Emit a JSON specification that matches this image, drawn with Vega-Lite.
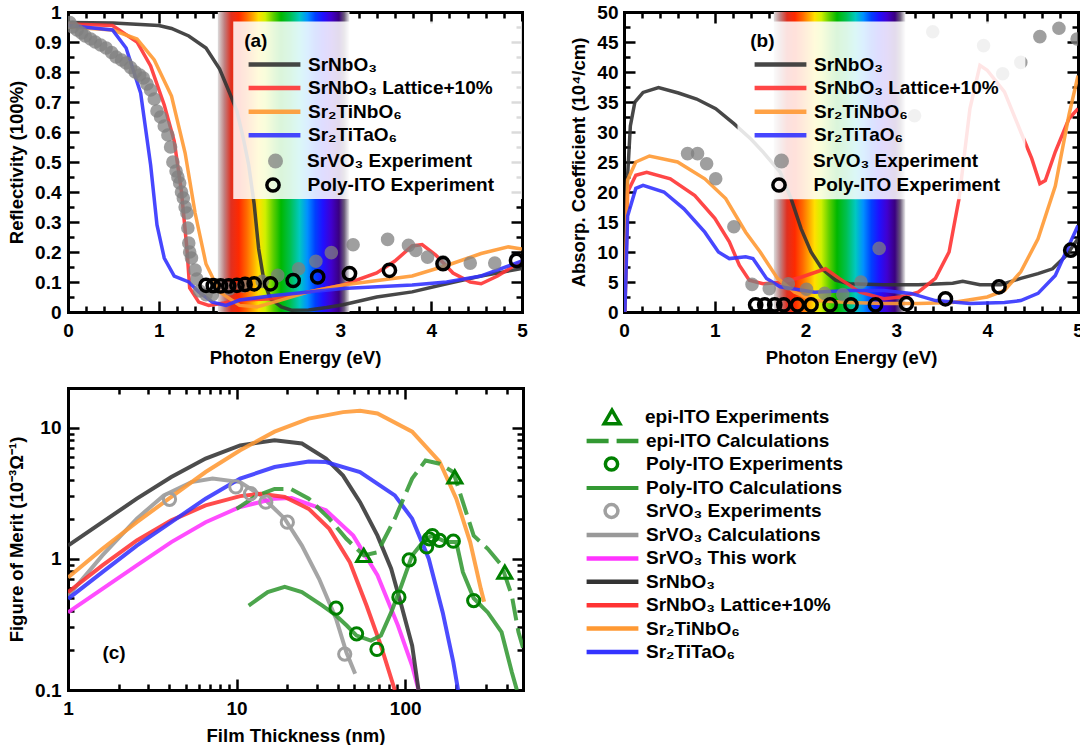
{
 "$schema": "https://vega.github.io/schema/vega-lite/v6.json",
 "padding": {"left": 7, "top": 3, "right": 0, "bottom": 0},
 "background": "white",
 "spacing": 19,
 "resolve": {"scale": {"color": "independent", "opacity": "independent", "size": "independent", "shape": "independent", "strokeDash": "independent", "strokeWidth": "independent"}, "legend": {"color": "independent", "opacity": "independent", "size": "independent", "shape": "independent", "strokeDash": "independent", "strokeWidth": "independent"}},
 "datasets": {
  "aLines": [
   {"s":"SrNbO₃","x":0,"y":0.965},{"s":"SrNbO₃","x":0.5,"y":0.963},{"s":"SrNbO₃","x":1.0,"y":0.955},{"s":"SrNbO₃","x":1.14,"y":0.945},{"s":"SrNbO₃","x":1.33,"y":0.92},{"s":"SrNbO₃","x":1.52,"y":0.88},{"s":"SrNbO₃","x":1.67,"y":0.81},{"s":"SrNbO₃","x":1.78,"y":0.73},{"s":"SrNbO₃","x":1.86,"y":0.67},{"s":"SrNbO₃","x":1.93,"y":0.58},{"s":"SrNbO₃","x":1.99,"y":0.49},{"s":"SrNbO₃","x":2.05,"y":0.36},{"s":"SrNbO₃","x":2.1,"y":0.21},{"s":"SrNbO₃","x":2.16,"y":0.1},{"s":"SrNbO₃","x":2.23,"y":0.044},{"s":"SrNbO₃","x":2.35,"y":0.017},{"s":"SrNbO₃","x":2.46,"y":0.006},{"s":"SrNbO₃","x":2.65,"y":0.007},{"s":"SrNbO₃","x":2.85,"y":0.015},{"s":"SrNbO₃","x":3.03,"y":0.024},{"s":"SrNbO₃","x":3.4,"y":0.05},{"s":"SrNbO₃","x":3.79,"y":0.067},{"s":"SrNbO₃","x":4.17,"y":0.094},{"s":"SrNbO₃","x":4.55,"y":0.12},{"s":"SrNbO₃","x":5,"y":0.145},
   {"s":"SrNbO₃ Lattice+10%","x":0,"y":0.96},{"s":"SrNbO₃ Lattice+10%","x":0.49,"y":0.955},{"s":"SrNbO₃ Lattice+10%","x":0.76,"y":0.9},{"s":"SrNbO₃ Lattice+10%","x":0.91,"y":0.82},{"s":"SrNbO₃ Lattice+10%","x":1.06,"y":0.69},{"s":"SrNbO₃ Lattice+10%","x":1.17,"y":0.57},{"s":"SrNbO₃ Lattice+10%","x":1.25,"y":0.4},{"s":"SrNbO₃ Lattice+10%","x":1.31,"y":0.21},{"s":"SrNbO₃ Lattice+10%","x":1.34,"y":0.08},{"s":"SrNbO₃ Lattice+10%","x":1.44,"y":0.033},{"s":"SrNbO₃ Lattice+10%","x":1.55,"y":0.022},{"s":"SrNbO₃ Lattice+10%","x":1.72,"y":0.03},{"s":"SrNbO₃ Lattice+10%","x":1.89,"y":0.04},{"s":"SrNbO₃ Lattice+10%","x":2.27,"y":0.044},{"s":"SrNbO₃ Lattice+10%","x":2.65,"y":0.067},{"s":"SrNbO₃ Lattice+10%","x":3.03,"y":0.09},{"s":"SrNbO₃ Lattice+10%","x":3.4,"y":0.13},{"s":"SrNbO₃ Lattice+10%","x":3.6,"y":0.17},{"s":"SrNbO₃ Lattice+10%","x":3.79,"y":0.22},{"s":"SrNbO₃ Lattice+10%","x":3.9,"y":0.225},{"s":"SrNbO₃ Lattice+10%","x":4.05,"y":0.19},{"s":"SrNbO₃ Lattice+10%","x":4.24,"y":0.13},{"s":"SrNbO₃ Lattice+10%","x":4.43,"y":0.1},{"s":"SrNbO₃ Lattice+10%","x":4.55,"y":0.094},{"s":"SrNbO₃ Lattice+10%","x":4.73,"y":0.12},{"s":"SrNbO₃ Lattice+10%","x":5,"y":0.17},
   {"s":"Sr₂TiNbO₆","x":0,"y":0.95},{"s":"Sr₂TiNbO₆","x":0.49,"y":0.94},{"s":"Sr₂TiNbO₆","x":0.76,"y":0.91},{"s":"Sr₂TiNbO₆","x":0.95,"y":0.84},{"s":"Sr₂TiNbO₆","x":1.14,"y":0.72},{"s":"Sr₂TiNbO₆","x":1.29,"y":0.53},{"s":"Sr₂TiNbO₆","x":1.4,"y":0.33},{"s":"Sr₂TiNbO₆","x":1.52,"y":0.16},{"s":"Sr₂TiNbO₆","x":1.67,"y":0.067},{"s":"Sr₂TiNbO₆","x":1.89,"y":0.022},{"s":"Sr₂TiNbO₆","x":2.08,"y":0.017},{"s":"Sr₂TiNbO₆","x":2.27,"y":0.033},{"s":"Sr₂TiNbO₆","x":2.65,"y":0.067},{"s":"Sr₂TiNbO₆","x":3.03,"y":0.09},{"s":"Sr₂TiNbO₆","x":3.79,"y":0.12},{"s":"Sr₂TiNbO₆","x":4.17,"y":0.155},{"s":"Sr₂TiNbO₆","x":4.55,"y":0.195},{"s":"Sr₂TiNbO₆","x":4.85,"y":0.217},{"s":"Sr₂TiNbO₆","x":5,"y":0.21},
   {"s":"Sr₂TiTaO₆","x":0,"y":0.955},{"s":"Sr₂TiTaO₆","x":0.49,"y":0.94},{"s":"Sr₂TiTaO₆","x":0.64,"y":0.88},{"s":"Sr₂TiTaO₆","x":0.8,"y":0.73},{"s":"Sr₂TiTaO₆","x":0.91,"y":0.49},{"s":"Sr₂TiTaO₆","x":0.98,"y":0.29},{"s":"Sr₂TiTaO₆","x":1.06,"y":0.18},{"s":"Sr₂TiTaO₆","x":1.17,"y":0.12},{"s":"Sr₂TiTaO₆","x":1.33,"y":0.1},{"s":"Sr₂TiTaO₆","x":1.44,"y":0.067},{"s":"Sr₂TiTaO₆","x":1.59,"y":0.033},{"s":"Sr₂TiTaO₆","x":1.74,"y":0.022},{"s":"Sr₂TiTaO₆","x":1.89,"y":0.04},{"s":"Sr₂TiTaO₆","x":2.27,"y":0.055},{"s":"Sr₂TiTaO₆","x":2.65,"y":0.067},{"s":"Sr₂TiTaO₆","x":3.03,"y":0.078},{"s":"Sr₂TiTaO₆","x":3.79,"y":0.09},{"s":"Sr₂TiTaO₆","x":4.17,"y":0.1},{"s":"Sr₂TiTaO₆","x":4.55,"y":0.12},{"s":"Sr₂TiTaO₆","x":5,"y":0.17}
  ],
  "aGray": [
   {"s":"SrVO₃ Experiment","x":0.02,"y":0.965},{"s":"SrVO₃ Experiment","x":0.05,"y":0.95},{"s":"SrVO₃ Experiment","x":0.1,"y":0.94},{"s":"SrVO₃ Experiment","x":0.15,"y":0.93},{"s":"SrVO₃ Experiment","x":0.19,"y":0.92},{"s":"SrVO₃ Experiment","x":0.25,"y":0.91},{"s":"SrVO₃ Experiment","x":0.3,"y":0.9},{"s":"SrVO₃ Experiment","x":0.36,"y":0.89},{"s":"SrVO₃ Experiment","x":0.42,"y":0.88},{"s":"SrVO₃ Experiment","x":0.48,"y":0.865},{"s":"SrVO₃ Experiment","x":0.53,"y":0.85},{"s":"SrVO₃ Experiment","x":0.59,"y":0.84},{"s":"SrVO₃ Experiment","x":0.64,"y":0.83},{"s":"SrVO₃ Experiment","x":0.69,"y":0.815},{"s":"SrVO₃ Experiment","x":0.74,"y":0.8},{"s":"SrVO₃ Experiment","x":0.79,"y":0.79},{"s":"SrVO₃ Experiment","x":0.83,"y":0.78},{"s":"SrVO₃ Experiment","x":0.87,"y":0.76},{"s":"SrVO₃ Experiment","x":0.91,"y":0.74},{"s":"SrVO₃ Experiment","x":0.95,"y":0.71},{"s":"SrVO₃ Experiment","x":0.98,"y":0.67},{"s":"SrVO₃ Experiment","x":1.02,"y":0.65},{"s":"SrVO₃ Experiment","x":1.06,"y":0.62},{"s":"SrVO₃ Experiment","x":1.1,"y":0.59},{"s":"SrVO₃ Experiment","x":1.13,"y":0.55},{"s":"SrVO₃ Experiment","x":1.155,"y":0.5},{"s":"SrVO₃ Experiment","x":1.19,"y":0.47},{"s":"SrVO₃ Experiment","x":1.21,"y":0.45},{"s":"SrVO₃ Experiment","x":1.23,"y":0.43},{"s":"SrVO₃ Experiment","x":1.25,"y":0.4},{"s":"SrVO₃ Experiment","x":1.27,"y":0.38},{"s":"SrVO₃ Experiment","x":1.29,"y":0.35},{"s":"SrVO₃ Experiment","x":1.31,"y":0.33},{"s":"SrVO₃ Experiment","x":1.32,"y":0.28},{"s":"SrVO₃ Experiment","x":1.33,"y":0.23},{"s":"SrVO₃ Experiment","x":1.34,"y":0.2},{"s":"SrVO₃ Experiment","x":1.36,"y":0.18},{"s":"SrVO₃ Experiment","x":1.4,"y":0.14},{"s":"SrVO₃ Experiment","x":1.42,"y":0.11},{"s":"SrVO₃ Experiment","x":1.45,"y":0.07},{"s":"SrVO₃ Experiment","x":1.52,"y":0.058},{"s":"SrVO₃ Experiment","x":1.59,"y":0.058},{"s":"SrVO₃ Experiment","x":1.78,"y":0.078},{"s":"SrVO₃ Experiment","x":1.93,"y":0.087},{"s":"SrVO₃ Experiment","x":2.14,"y":0.102},{"s":"SrVO₃ Experiment","x":2.31,"y":0.122},{"s":"SrVO₃ Experiment","x":2.54,"y":0.144},{"s":"SrVO₃ Experiment","x":2.73,"y":0.169},{"s":"SrVO₃ Experiment","x":2.9,"y":0.198},{"s":"SrVO₃ Experiment","x":3.14,"y":0.224},{"s":"SrVO₃ Experiment","x":3.52,"y":0.242},{"s":"SrVO₃ Experiment","x":3.75,"y":0.222},{"s":"SrVO₃ Experiment","x":3.83,"y":0.205},{"s":"SrVO₃ Experiment","x":3.96,"y":0.183},{"s":"SrVO₃ Experiment","x":4.13,"y":0.167},{"s":"SrVO₃ Experiment","x":4.43,"y":0.163},{"s":"SrVO₃ Experiment","x":4.7,"y":0.163}
  ],
  "aITO": [
   {"s":"Poly-ITO Experiment","x":1.52,"y":0.089},{"s":"Poly-ITO Experiment","x":1.6,"y":0.088},{"s":"Poly-ITO Experiment","x":1.68,"y":0.087},{"s":"Poly-ITO Experiment","x":1.77,"y":0.087},{"s":"Poly-ITO Experiment","x":1.86,"y":0.089},{"s":"Poly-ITO Experiment","x":1.95,"y":0.092},{"s":"Poly-ITO Experiment","x":2.05,"y":0.094},{"s":"Poly-ITO Experiment","x":2.23,"y":0.094},{"s":"Poly-ITO Experiment","x":2.48,"y":0.105},{"s":"Poly-ITO Experiment","x":2.75,"y":0.117},{"s":"Poly-ITO Experiment","x":3.1,"y":0.128},{"s":"Poly-ITO Experiment","x":3.54,"y":0.139},{"s":"Poly-ITO Experiment","x":4.13,"y":0.161},{"s":"Poly-ITO Experiment","x":4.94,"y":0.172}
  ],
  "bLines": [
   {"s":"SrNbO₃","x":0.01,"y":0},{"s":"SrNbO₃","x":0.03,"y":20},{"s":"SrNbO₃","x":0.07,"y":31},{"s":"SrNbO₃","x":0.12,"y":35},{"s":"SrNbO₃","x":0.21,"y":36.6},{"s":"SrNbO₃","x":0.38,"y":37.4},{"s":"SrNbO₃","x":0.6,"y":36.5},{"s":"SrNbO₃","x":0.8,"y":35.5},{"s":"SrNbO₃","x":1.01,"y":33.9},{"s":"SrNbO₃","x":1.21,"y":31.4},{"s":"SrNbO₃","x":1.4,"y":28.8},{"s":"SrNbO₃","x":1.53,"y":26.7},{"s":"SrNbO₃","x":1.72,"y":23.3},{"s":"SrNbO₃","x":1.84,"y":18.9},{"s":"SrNbO₃","x":1.95,"y":13.9},{"s":"SrNbO₃","x":2.06,"y":10},{"s":"SrNbO₃","x":2.18,"y":7.2},{"s":"SrNbO₃","x":2.33,"y":5.3},{"s":"SrNbO₃","x":2.48,"y":4.7},{"s":"SrNbO₃","x":2.86,"y":4.55},{"s":"SrNbO₃","x":3.24,"y":4.55},{"s":"SrNbO₃","x":3.62,"y":4.8},{"s":"SrNbO₃","x":3.73,"y":5.1},{"s":"SrNbO₃","x":3.92,"y":4.55},{"s":"SrNbO₃","x":4.15,"y":4.55},{"s":"SrNbO₃","x":4.37,"y":5.6},{"s":"SrNbO₃","x":4.56,"y":6.4},{"s":"SrNbO₃","x":4.72,"y":7.2},{"s":"SrNbO₃","x":4.87,"y":9.4},{"s":"SrNbO₃","x":5,"y":12.2},
   {"s":"SrNbO₃ Lattice+10%","x":0.01,"y":0},{"s":"SrNbO₃ Lattice+10%","x":0.04,"y":20},{"s":"SrNbO₃ Lattice+10%","x":0.13,"y":22.8},{"s":"SrNbO₃ Lattice+10%","x":0.25,"y":23.3},{"s":"SrNbO₃ Lattice+10%","x":0.51,"y":22.2},{"s":"SrNbO₃ Lattice+10%","x":0.78,"y":19.4},{"s":"SrNbO₃ Lattice+10%","x":1.0,"y":15.6},{"s":"SrNbO₃ Lattice+10%","x":1.16,"y":11.7},{"s":"SrNbO₃ Lattice+10%","x":1.27,"y":7.8},{"s":"SrNbO₃ Lattice+10%","x":1.38,"y":5.3},{"s":"SrNbO₃ Lattice+10%","x":1.53,"y":4.7},{"s":"SrNbO₃ Lattice+10%","x":1.72,"y":4.9},{"s":"SrNbO₃ Lattice+10%","x":1.95,"y":5.8},{"s":"SrNbO₃ Lattice+10%","x":2.22,"y":7.2},{"s":"SrNbO₃ Lattice+10%","x":2.37,"y":5.6},{"s":"SrNbO₃ Lattice+10%","x":2.6,"y":3.3},{"s":"SrNbO₃ Lattice+10%","x":2.86,"y":2.2},{"s":"SrNbO₃ Lattice+10%","x":3.05,"y":2.5},{"s":"SrNbO₃ Lattice+10%","x":3.24,"y":3.3},{"s":"SrNbO₃ Lattice+10%","x":3.43,"y":5.6},{"s":"SrNbO₃ Lattice+10%","x":3.58,"y":10},{"s":"SrNbO₃ Lattice+10%","x":3.69,"y":18.9},{"s":"SrNbO₃ Lattice+10%","x":3.81,"y":33.9},{"s":"SrNbO₃ Lattice+10%","x":3.92,"y":41.1},{"s":"SrNbO₃ Lattice+10%","x":4.0,"y":40.3},{"s":"SrNbO₃ Lattice+10%","x":4.19,"y":36.7},{"s":"SrNbO₃ Lattice+10%","x":4.37,"y":30},{"s":"SrNbO₃ Lattice+10%","x":4.49,"y":25.6},{"s":"SrNbO₃ Lattice+10%","x":4.58,"y":21.4},{"s":"SrNbO₃ Lattice+10%","x":4.64,"y":21.9},{"s":"SrNbO₃ Lattice+10%","x":4.75,"y":26.7},{"s":"SrNbO₃ Lattice+10%","x":4.9,"y":32.2},{"s":"SrNbO₃ Lattice+10%","x":5,"y":33.9},
   {"s":"Sr₂TiNbO₆","x":0.01,"y":0},{"s":"Sr₂TiNbO₆","x":0.04,"y":22},{"s":"Sr₂TiNbO₆","x":0.13,"y":25},{"s":"Sr₂TiNbO₆","x":0.28,"y":26},{"s":"Sr₂TiNbO₆","x":0.59,"y":25},{"s":"Sr₂TiNbO₆","x":0.89,"y":22.2},{"s":"Sr₂TiNbO₆","x":1.12,"y":18.9},{"s":"Sr₂TiNbO₆","x":1.34,"y":13.3},{"s":"Sr₂TiNbO₆","x":1.5,"y":10},{"s":"Sr₂TiNbO₆","x":1.69,"y":5.6},{"s":"Sr₂TiNbO₆","x":1.88,"y":3.3},{"s":"Sr₂TiNbO₆","x":2.1,"y":1.9},{"s":"Sr₂TiNbO₆","x":2.48,"y":1.6},{"s":"Sr₂TiNbO₆","x":2.86,"y":1.4},{"s":"Sr₂TiNbO₆","x":3.24,"y":1.4},{"s":"Sr₂TiNbO₆","x":3.62,"y":1.6},{"s":"Sr₂TiNbO₆","x":4.0,"y":2.5},{"s":"Sr₂TiNbO₆","x":4.19,"y":3.6},{"s":"Sr₂TiNbO₆","x":4.37,"y":6.7},{"s":"Sr₂TiNbO₆","x":4.56,"y":12.2},{"s":"Sr₂TiNbO₆","x":4.75,"y":21},{"s":"Sr₂TiNbO₆","x":4.9,"y":32.8},{"s":"Sr₂TiNbO₆","x":5,"y":39.4},
   {"s":"Sr₂TiTaO₆","x":0.01,"y":0},{"s":"Sr₂TiTaO₆","x":0.04,"y":16},{"s":"Sr₂TiTaO₆","x":0.13,"y":20.6},{"s":"Sr₂TiTaO₆","x":0.21,"y":21.1},{"s":"Sr₂TiTaO₆","x":0.44,"y":20},{"s":"Sr₂TiTaO₆","x":0.66,"y":17.2},{"s":"Sr₂TiTaO₆","x":0.89,"y":13.3},{"s":"Sr₂TiTaO₆","x":1.04,"y":10},{"s":"Sr₂TiTaO₆","x":1.16,"y":8.9},{"s":"Sr₂TiTaO₆","x":1.34,"y":9.2},{"s":"Sr₂TiTaO₆","x":1.42,"y":8.9},{"s":"Sr₂TiTaO₆","x":1.57,"y":5.6},{"s":"Sr₂TiTaO₆","x":1.72,"y":4.2},{"s":"Sr₂TiTaO₆","x":2.1,"y":3.3},{"s":"Sr₂TiTaO₆","x":2.48,"y":3.6},{"s":"Sr₂TiTaO₆","x":2.86,"y":3.6},{"s":"Sr₂TiTaO₆","x":3.16,"y":3.1},{"s":"Sr₂TiTaO₆","x":3.43,"y":1.9},{"s":"Sr₂TiTaO₆","x":3.81,"y":1.4},{"s":"Sr₂TiTaO₆","x":4.19,"y":1.6},{"s":"Sr₂TiTaO₆","x":4.37,"y":1.9},{"s":"Sr₂TiTaO₆","x":4.56,"y":3.1},{"s":"Sr₂TiTaO₆","x":4.75,"y":6.1},{"s":"Sr₂TiTaO₆","x":4.9,"y":11.1},{"s":"Sr₂TiTaO₆","x":5,"y":14.4}
  ],
  "bGray": [
   {"s":"SrVO₃ Experiment","x":0.7,"y":26.4},{"s":"SrVO₃ Experiment","x":0.81,"y":26.4},{"s":"SrVO₃ Experiment","x":0.91,"y":24.7},{"s":"SrVO₃ Experiment","x":1.01,"y":22.2},{"s":"SrVO₃ Experiment","x":1.21,"y":14.2},{"s":"SrVO₃ Experiment","x":1.41,"y":4.6},{"s":"SrVO₃ Experiment","x":1.6,"y":3.9},{"s":"SrVO₃ Experiment","x":1.81,"y":4.7},{"s":"SrVO₃ Experiment","x":2.01,"y":3.8},{"s":"SrVO₃ Experiment","x":2.21,"y":3.1},{"s":"SrVO₃ Experiment","x":2.41,"y":2.9},{"s":"SrVO₃ Experiment","x":2.61,"y":5},{"s":"SrVO₃ Experiment","x":2.81,"y":10.6},{"s":"SrVO₃ Experiment","x":3.2,"y":32.7},{"s":"SrVO₃ Experiment","x":3.4,"y":46.7},{"s":"SrVO₃ Experiment","x":3.96,"y":44.4},{"s":"SrVO₃ Experiment","x":4.17,"y":39.7},{"s":"SrVO₃ Experiment","x":4.37,"y":41.6},{"s":"SrVO₃ Experiment","x":4.58,"y":45.9},{"s":"SrVO₃ Experiment","x":4.79,"y":47.3},{"s":"SrVO₃ Experiment","x":4.99,"y":45.5}
  ],
  "bITO": [
   {"s":"Poly-ITO Experiment","x":1.45,"y":1.2},{"s":"Poly-ITO Experiment","x":1.55,"y":1.2},{"s":"Poly-ITO Experiment","x":1.66,"y":1.2},{"s":"Poly-ITO Experiment","x":1.76,"y":1.2},{"s":"Poly-ITO Experiment","x":1.91,"y":1.2},{"s":"Poly-ITO Experiment","x":2.06,"y":1.2},{"s":"Poly-ITO Experiment","x":2.27,"y":1.2},{"s":"Poly-ITO Experiment","x":2.5,"y":1.2},{"s":"Poly-ITO Experiment","x":2.77,"y":1.2},{"s":"Poly-ITO Experiment","x":3.11,"y":1.4},{"s":"Poly-ITO Experiment","x":3.54,"y":2.2},{"s":"Poly-ITO Experiment","x":4.13,"y":4.2},{"s":"Poly-ITO Experiment","x":4.92,"y":10.3}
  ],
  "cLines": [
   {"s":"Poly-ITO Calculations","x":11.8,"y":0.44},{"s":"Poly-ITO Calculations","x":15.3,"y":0.557},{"s":"Poly-ITO Calculations","x":19.3,"y":0.61},{"s":"Poly-ITO Calculations","x":24.4,"y":0.557},{"s":"Poly-ITO Calculations","x":32.3,"y":0.44},{"s":"Poly-ITO Calculations","x":38.9,"y":0.37},{"s":"Poly-ITO Calculations","x":45,"y":0.31},{"s":"Poly-ITO Calculations","x":51.5,"y":0.26},{"s":"Poly-ITO Calculations","x":62.6,"y":0.238},{"s":"Poly-ITO Calculations","x":71.8,"y":0.26},{"s":"Poly-ITO Calculations","x":82.6,"y":0.39},{"s":"Poly-ITO Calculations","x":95,"y":0.626},{"s":"Poly-ITO Calculations","x":110,"y":1.06},{"s":"Poly-ITO Calculations","x":132,"y":1.42},{"s":"Poly-ITO Calculations","x":145,"y":1.5},{"s":"Poly-ITO Calculations","x":175,"y":1.34},{"s":"Poly-ITO Calculations","x":201,"y":1.34},{"s":"Poly-ITO Calculations","x":220,"y":0.79},{"s":"Poly-ITO Calculations","x":255,"y":0.5},{"s":"Poly-ITO Calculations","x":309,"y":0.39},{"s":"Poly-ITO Calculations","x":373,"y":0.276},{"s":"Poly-ITO Calculations","x":429,"y":0.137},{"s":"Poly-ITO Calculations","x":460,"y":0.1},
   {"s":"SrVO₃ Calculations","x":1,"y":0.52},{"s":"SrVO₃ Calculations","x":1.6,"y":1.06},{"s":"SrVO₃ Calculations","x":2.56,"y":2.02},{"s":"SrVO₃ Calculations","x":3.7,"y":3.04},{"s":"SrVO₃ Calculations","x":5.4,"y":3.84},{"s":"SrVO₃ Calculations","x":7.2,"y":4.08},{"s":"SrVO₃ Calculations","x":10.5,"y":3.84},{"s":"SrVO₃ Calculations","x":13.9,"y":3.04},{"s":"SrVO₃ Calculations","x":19.3,"y":2.02},{"s":"SrVO₃ Calculations","x":24.4,"y":1.26},{"s":"SrVO₃ Calculations","x":30.9,"y":0.7},{"s":"SrVO₃ Calculations","x":38.9,"y":0.35},{"s":"SrVO₃ Calculations","x":44.8,"y":0.194},{"s":"SrVO₃ Calculations","x":50.5,"y":0.133},
   {"s":"SrVO₃ This work","x":1,"y":0.39},{"s":"SrVO₃ This work","x":1.6,"y":0.59},{"s":"SrVO₃ This work","x":2.56,"y":0.89},{"s":"SrVO₃ This work","x":4.1,"y":1.34},{"s":"SrVO₃ This work","x":6.55,"y":1.9},{"s":"SrVO₃ This work","x":10.5,"y":2.48},{"s":"SrVO₃ This work","x":16.8,"y":2.87},{"s":"SrVO₃ This work","x":21.2,"y":2.9},{"s":"SrVO₃ This work","x":33.9,"y":2.34},{"s":"SrVO₃ This work","x":49.2,"y":1.5},{"s":"SrVO₃ This work","x":68.5,"y":0.75},{"s":"SrVO₃ This work","x":90.6,"y":0.31},{"s":"SrVO₃ This work","x":110,"y":0.153},{"s":"SrVO₃ This work","x":120,"y":0.1},
   {"s":"SrNbO₃","x":1,"y":1.26},{"s":"SrNbO₃","x":1.6,"y":1.9},{"s":"SrNbO₃","x":2.56,"y":2.87},{"s":"SrNbO₃","x":4.1,"y":4.2},{"s":"SrNbO₃","x":6.55,"y":5.8},{"s":"SrNbO₃","x":10.5,"y":7.3},{"s":"SrNbO₃","x":16.8,"y":8.0},{"s":"SrNbO₃","x":24.4,"y":7.55},{"s":"SrNbO₃","x":33.9,"y":5.8},{"s":"SrNbO₃","x":42.8,"y":4.3},{"s":"SrNbO₃","x":54,"y":2.7},{"s":"SrNbO₃","x":68.5,"y":1.5},{"s":"SrNbO₃","x":82.6,"y":0.84},{"s":"SrNbO₃","x":95,"y":0.44},{"s":"SrNbO₃","x":110,"y":0.218},{"s":"SrNbO₃","x":120,"y":0.1},
   {"s":"SrNbO₃ Lattice+10%","x":1,"y":0.556},{"s":"SrNbO₃ Lattice+10%","x":1.6,"y":0.89},{"s":"SrNbO₃ Lattice+10%","x":2.56,"y":1.38},{"s":"SrNbO₃ Lattice+10%","x":4.1,"y":1.96},{"s":"SrNbO₃ Lattice+10%","x":6.55,"y":2.55},{"s":"SrNbO₃ Lattice+10%","x":10.5,"y":3.0},{"s":"SrNbO₃ Lattice+10%","x":13.9,"y":3.13},{"s":"SrNbO₃ Lattice+10%","x":19.3,"y":2.96},{"s":"SrNbO₃ Lattice+10%","x":26.8,"y":2.4},{"s":"SrNbO₃ Lattice+10%","x":35.5,"y":1.69},{"s":"SrNbO₃ Lattice+10%","x":47,"y":0.94},{"s":"SrNbO₃ Lattice+10%","x":59,"y":0.44},{"s":"SrNbO₃ Lattice+10%","x":71.8,"y":0.218},{"s":"SrNbO₃ Lattice+10%","x":86.8,"y":0.1},
   {"s":"Sr₂TiNbO₆","x":1,"y":0.72},{"s":"Sr₂TiNbO₆","x":1.6,"y":1.19},{"s":"Sr₂TiNbO₆","x":2.56,"y":1.9},{"s":"Sr₂TiNbO₆","x":4.1,"y":2.96},{"s":"Sr₂TiNbO₆","x":6.55,"y":4.58},{"s":"Sr₂TiNbO₆","x":10.5,"y":6.7},{"s":"Sr₂TiNbO₆","x":16.8,"y":9.3},{"s":"Sr₂TiNbO₆","x":26.8,"y":11.7},{"s":"Sr₂TiNbO₆","x":42.8,"y":13.1},{"s":"Sr₂TiNbO₆","x":54,"y":13.4},{"s":"Sr₂TiNbO₆","x":68.5,"y":12.8},{"s":"Sr₂TiNbO₆","x":110,"y":9.3},{"s":"Sr₂TiNbO₆","x":160,"y":5.5},{"s":"Sr₂TiNbO₆","x":201,"y":2.87},{"s":"Sr₂TiNbO₆","x":243,"y":1.34},{"s":"Sr₂TiNbO₆","x":281,"y":0.59},{"s":"Sr₂TiNbO₆","x":294,"y":0.47},
   {"s":"Sr₂TiTaO₆","x":1,"y":0.495},{"s":"Sr₂TiTaO₆","x":1.6,"y":0.79},{"s":"Sr₂TiTaO₆","x":2.56,"y":1.26},{"s":"Sr₂TiTaO₆","x":4.1,"y":1.9},{"s":"Sr₂TiTaO₆","x":6.55,"y":2.87},{"s":"Sr₂TiTaO₆","x":10.5,"y":4.08},{"s":"Sr₂TiTaO₆","x":16.8,"y":5.0},{"s":"Sr₂TiTaO₆","x":26.8,"y":5.5},{"s":"Sr₂TiTaO₆","x":33.9,"y":5.45},{"s":"Sr₂TiTaO₆","x":54,"y":4.58},{"s":"Sr₂TiTaO₆","x":86.8,"y":3.04},{"s":"Sr₂TiTaO₆","x":110,"y":2.02},{"s":"Sr₂TiTaO₆","x":138,"y":1.0},{"s":"Sr₂TiTaO₆","x":167,"y":0.39},{"s":"Sr₂TiTaO₆","x":193,"y":0.163},{"s":"Sr₂TiTaO₆","x":206,"y":0.1}
  ],
  "cDash": [
   {"s":"epi-ITO Calculations","x":10,"y":2.4},{"s":"epi-ITO Calculations","x":13,"y":3.0},{"s":"epi-ITO Calculations","x":16.8,"y":3.4},{"s":"epi-ITO Calculations","x":21,"y":3.4},{"s":"epi-ITO Calculations","x":26.8,"y":2.87},{"s":"epi-ITO Calculations","x":35.5,"y":2.02},{"s":"epi-ITO Calculations","x":44.8,"y":1.42},{"s":"epi-ITO Calculations","x":56.8,"y":1.06},{"s":"epi-ITO Calculations","x":68.5,"y":1.12},{"s":"epi-ITO Calculations","x":86.8,"y":2.02},{"s":"epi-ITO Calculations","x":110,"y":4.08},{"s":"epi-ITO Calculations","x":132,"y":5.6},{"s":"epi-ITO Calculations","x":160,"y":5.3},{"s":"epi-ITO Calculations","x":193,"y":4.58},{"s":"epi-ITO Calculations","x":220,"y":2.7},{"s":"epi-ITO Calculations","x":255,"y":1.5},{"s":"epi-ITO Calculations","x":309,"y":1.19},{"s":"epi-ITO Calculations","x":373,"y":0.89},{"s":"epi-ITO Calculations","x":429,"y":0.525},{"s":"epi-ITO Calculations","x":470,"y":0.276},{"s":"epi-ITO Calculations","x":500,"y":0.21}
  ],
  "cCirc": [
   {"s":"Poly-ITO Experiments","x":38.9,"y":0.42},{"s":"Poly-ITO Experiments","x":51.5,"y":0.268},{"s":"Poly-ITO Experiments","x":68,"y":0.204},{"s":"Poly-ITO Experiments","x":91.8,"y":0.51},{"s":"Poly-ITO Experiments","x":105.6,"y":0.98},{"s":"Poly-ITO Experiments","x":134,"y":1.23},{"s":"Poly-ITO Experiments","x":139,"y":1.42},{"s":"Poly-ITO Experiments","x":145,"y":1.5},{"s":"Poly-ITO Experiments","x":160,"y":1.38},{"s":"Poly-ITO Experiments","x":193,"y":1.36},{"s":"Poly-ITO Experiments","x":255,"y":0.48}
  ],
  "cSrV": [
   {"s":"SrVO₃ Experiments","x":4.0,"y":2.84},{"s":"SrVO₃ Experiments","x":9.9,"y":3.53},{"s":"SrVO₃ Experiments","x":12.1,"y":3.13},{"s":"SrVO₃ Experiments","x":14.9,"y":2.7},{"s":"SrVO₃ Experiments","x":20,"y":1.9},{"s":"SrVO₃ Experiments","x":43.8,"y":0.188}
  ],
  "cTri": [
   {"s":"epi-ITO Experiments","x":56.8,"y":1.06},{"s":"epi-ITO Experiments","x":197,"y":4.2},{"s":"epi-ITO Experiments","x":390,"y":0.79}
  ]
 },
 "vconcat": [
  {
   "spacing": 41,
   "resolve": {"scale": {"color": "independent", "opacity": "independent", "size": "independent"}, "legend": {"color": "independent", "opacity": "independent", "size": "independent"}},
   "hconcat": [
    {
     "width": 454, "height": 300,
     "resolve": {"axis": {"x": "independent", "y": "independent"}},
     "layer": [
      {
       "data": {"values": [{"lo": 1.65, "hi": 3.1}]},
       "mark": {"type": "rect", "fill": {"gradient": "linear", "x1": 0, "y1": 0, "x2": 1, "y2": 0, "stops": [
         {"offset": 0, "color": "#dcdcdc"}, {"offset": 0.05, "color": "#c08080"}, {"offset": 0.1, "color": "#e03020"}, {"offset": 0.16, "color": "#ff2a00"}, {"offset": 0.22, "color": "#ff6a00"}, {"offset": 0.27, "color": "#ffaa00"}, {"offset": 0.31, "color": "#ffe000"}, {"offset": 0.36, "color": "#d0f000"}, {"offset": 0.42, "color": "#60d000"}, {"offset": 0.48, "color": "#00b800"}, {"offset": 0.55, "color": "#00c050"}, {"offset": 0.62, "color": "#00c8c0"}, {"offset": 0.68, "color": "#0090ff"}, {"offset": 0.74, "color": "#0040ff"}, {"offset": 0.8, "color": "#2010ff"}, {"offset": 0.86, "color": "#4000d0"}, {"offset": 0.92, "color": "#3a0080"}, {"offset": 0.96, "color": "#6a5a7a"}, {"offset": 1, "color": "#f0f0f0"}]}},
       "encoding": {
        "x": {"field": "lo", "type": "quantitative", "scale": {"domain": [0, 5], "nice": false, "zero": false},
              "axis": {"orient": "bottom", "title": "Photon Energy (eV)", "values": [0, 1, 2, 3, 4, 5], "format": "d", "ticks": false, "domain": true, "domainCap": "square", "labelPadding": 9, "titlePadding": 8}},
        "x2": {"field": "hi"},
        "y": {"datum": 0, "type": "quantitative", "scale": {"domain": [0, 1], "nice": false, "zero": false},
              "axis": {"orient": "left", "title": "Reflectivity (100%)", "values": [0, 0.1, 0.2, 0.3, 0.4, 0.5, 0.6, 0.7, 0.8, 0.9, 1], "format": "~g", "ticks": false, "domain": true, "domainCap": "square", "labelPadding": 7, "titlePadding": 8}},
        "y2": {"datum": 1}
       }
      },
      {
       "data": {"name": "aLines"},
       "transform": [{"filter": "datum.s === 'SrNbO₃'"}],
       "mark": {"type": "line", "strokeWidth": 3.5, "opacity": 0.9, "clip": true},
       "encoding": {
        "x": {"field": "x", "type": "quantitative", "axis": {"orient": "top", "title": null, "labels": false, "domain": true, "domainCap": "square", "values": [0, 1, 2, 3, 4, 5], "tickSize": -11}},
        "y": {"field": "y", "type": "quantitative", "axis": {"orient": "right", "title": null, "labels": false, "domain": true, "domainCap": "square", "values": [0.1, 0.2, 0.3, 0.4, 0.5, 0.6, 0.7, 0.8, 0.9], "tickSize": -11}},
        "color": {"field": "s", "type": "nominal",
         "scale": {"domain": ["SrNbO₃", "SrNbO₃ Lattice+10%", "Sr₂TiNbO₆", "Sr₂TiTaO₆"], "range": ["#333333", "#ff3333", "#ff9933", "#3333ff"]},
         "legend": {"orient": "none", "legendX": 197, "legendY": 43, "title": null, "padding": 0, "symbolType": "M-3.7,0L3.7,0", "symbolSize": 196, "symbolStrokeWidth": 4.5, "symbolOpacity": 1, "labelOffset": 24, "rowPadding": 3.6}}
       }
      },
      {
       "data": {"name": "aLines"},
       "transform": [{"filter": "datum.s !== 'SrNbO₃'"}],
       "mark": {"type": "line", "strokeWidth": 3.5, "opacity": 0.9, "clip": true},
       "encoding": {
        "x": {"field": "x", "type": "quantitative", "axis": {"orient": "bottom", "title": null, "labels": false, "domain": false, "values": [1, 2, 3, 4], "tickSize": -11}},
        "y": {"field": "y", "type": "quantitative", "axis": {"orient": "left", "title": null, "labels": false, "domain": false, "values": [0.1, 0.2, 0.3, 0.4, 0.5, 0.6, 0.7, 0.8, 0.9], "tickSize": -11}},
        "color": {"field": "s", "type": "nominal"}
       }
      },
      {
       "data": {"name": "aGray"},
       "mark": {"type": "point", "filled": true, "size": 185, "color": "#7f7f7f", "clip": true},
       "encoding": {
        "x": {"field": "x", "type": "quantitative", "axis": {"orient": "bottom", "title": null, "labels": false, "domain": false, "values": [0.2, 0.4, 0.6, 0.8, 1.2, 1.4, 1.6, 1.8, 2.2, 2.4, 2.6, 2.8, 3.2, 3.4, 3.6, 3.8, 4.2, 4.4, 4.6, 4.8], "tickSize": -6}},
        "y": {"field": "y", "type": "quantitative", "axis": {"orient": "left", "title": null, "labels": false, "domain": false, "values": [0.05, 0.15, 0.25, 0.35, 0.45, 0.55, 0.65, 0.75, 0.85, 0.95], "tickSize": -6}},
        "opacity": {"field": "s", "type": "nominal", "scale": {"domain": ["SrVO₃ Experiment"], "range": [0.75, 0.75]},
         "legend": {"orient": "none", "legendX": 198, "legendY": 139.5, "title": null, "padding": 0, "symbolType": "circle", "symbolSize": 225, "symbolFillColor": "#7f7f7f", "symbolStrokeWidth": 0, "labelOffset": 22}}
       }
      },
      {
       "data": {"name": "aITO"},
       "mark": {"type": "point", "filled": false, "strokeWidth": 3.5, "color": "#000000", "opacity": 1, "clip": true},
       "encoding": {
        "x": {"field": "x", "type": "quantitative", "axis": {"orient": "top", "title": null, "labels": false, "domain": false, "values": [0.2, 0.4, 0.6, 0.8, 1.2, 1.4, 1.6, 1.8, 2.2, 2.4, 2.6, 2.8, 3.2, 3.4, 3.6, 3.8, 4.2, 4.4, 4.6, 4.8], "tickSize": -6}},
        "y": {"field": "y", "type": "quantitative", "axis": {"orient": "right", "title": null, "labels": false, "domain": false, "values": [0.05, 0.15, 0.25, 0.35, 0.45, 0.55, 0.65, 0.75, 0.85, 0.95], "tickSize": -6}},
        "size": {"field": "s", "type": "nominal", "scale": {"domain": ["Poly-ITO Experiment"], "range": [150, 150]},
         "legend": {"orient": "none", "legendX": 195.5, "legendY": 163.5, "title": null, "padding": 0, "symbolType": "circle", "symbolStrokeColor": "#000000", "symbolFillColor": "transparent", "symbolStrokeWidth": 3.5, "symbolOpacity": 1, "labelOffset": 25}}
       }
      },
      {
       "data": {"values": [{}]},
       "mark": {"type": "rect", "fill": "white", "opacity": 0.86},
       "encoding": {
        "x": {"datum": 1.82, "type": "quantitative", "axis": null}, "x2": {"datum": 5},
        "y": {"datum": 0.377, "type": "quantitative", "axis": null}, "y2": {"datum": 0.968}
       }
      },
      {
       "data": {"values": [{}]},
       "mark": {"type": "text", "text": "(a)", "font": "Liberation Sans", "fontSize": 19, "fontWeight": "bold", "align": "left", "baseline": "middle", "color": "black"},
       "encoding": {
        "x": {"datum": 1.94, "type": "quantitative", "axis": null},
        "y": {"datum": 0.904, "type": "quantitative", "axis": null}
       }
      }
     ]
    },
    {
     "width": 454, "height": 300,
     "resolve": {"axis": {"x": "independent", "y": "independent"}},
     "layer": [
      {
       "data": {"values": [{"lo": 1.65, "hi": 3.1}]},
       "mark": {"type": "rect", "fill": {"gradient": "linear", "x1": 0, "y1": 0, "x2": 1, "y2": 0, "stops": [
         {"offset": 0, "color": "#dcdcdc"}, {"offset": 0.05, "color": "#c08080"}, {"offset": 0.1, "color": "#e03020"}, {"offset": 0.16, "color": "#ff2a00"}, {"offset": 0.22, "color": "#ff6a00"}, {"offset": 0.27, "color": "#ffaa00"}, {"offset": 0.31, "color": "#ffe000"}, {"offset": 0.36, "color": "#d0f000"}, {"offset": 0.42, "color": "#60d000"}, {"offset": 0.48, "color": "#00b800"}, {"offset": 0.55, "color": "#00c050"}, {"offset": 0.62, "color": "#00c8c0"}, {"offset": 0.68, "color": "#0090ff"}, {"offset": 0.74, "color": "#0040ff"}, {"offset": 0.8, "color": "#2010ff"}, {"offset": 0.86, "color": "#4000d0"}, {"offset": 0.92, "color": "#3a0080"}, {"offset": 0.96, "color": "#6a5a7a"}, {"offset": 1, "color": "#f0f0f0"}]}},
       "encoding": {
        "x": {"field": "lo", "type": "quantitative", "scale": {"domain": [0, 5], "nice": false, "zero": false},
              "axis": {"orient": "bottom", "title": "Photon Energy (eV)", "values": [0, 1, 2, 3, 4, 5], "format": "d", "ticks": false, "domain": true, "domainCap": "square", "labelPadding": 9, "titlePadding": 8}},
        "x2": {"field": "hi"},
        "y": {"datum": 0, "type": "quantitative", "scale": {"domain": [0, 50], "nice": false, "zero": false},
              "axis": {"orient": "left", "title": "Absorp. Coefficient (10⁴/cm)", "values": [0, 5, 10, 15, 20, 25, 30, 35, 40, 45, 50], "format": "d", "ticks": false, "domain": true, "domainCap": "square", "labelPadding": 6, "titlePadding": 8}},
        "y2": {"datum": 50}
       }
      },
      {
       "data": {"name": "bLines"},
       "transform": [{"filter": "datum.s === 'SrNbO₃'"}],
       "mark": {"type": "line", "strokeWidth": 3.5, "opacity": 0.9, "clip": true},
       "encoding": {
        "x": {"field": "x", "type": "quantitative", "axis": {"orient": "top", "title": null, "labels": false, "domain": true, "domainCap": "square", "values": [0, 1, 2, 3, 4, 5], "tickSize": -11}},
        "y": {"field": "y", "type": "quantitative", "axis": {"orient": "right", "title": null, "labels": false, "domain": true, "domainCap": "square", "values": [5, 10, 15, 20, 25, 30, 35, 40, 45], "tickSize": -11}},
        "color": {"field": "s", "type": "nominal",
         "scale": {"domain": ["SrNbO₃", "SrNbO₃ Lattice+10%", "Sr₂TiNbO₆", "Sr₂TiTaO₆"], "range": ["#333333", "#ff3333", "#ff9933", "#3333ff"]},
         "legend": {"orient": "none", "legendX": 147, "legendY": 43, "title": null, "padding": 0, "symbolType": "M-3.7,0L3.7,0", "symbolSize": 196, "symbolStrokeWidth": 4.5, "symbolOpacity": 1, "labelOffset": 24, "rowPadding": 3.6}}
       }
      },
      {
       "data": {"name": "bLines"},
       "transform": [{"filter": "datum.s !== 'SrNbO₃'"}],
       "mark": {"type": "line", "strokeWidth": 3.5, "opacity": 0.9, "clip": true},
       "encoding": {
        "x": {"field": "x", "type": "quantitative", "axis": {"orient": "bottom", "title": null, "labels": false, "domain": false, "values": [1, 2, 3, 4], "tickSize": -11}},
        "y": {"field": "y", "type": "quantitative", "axis": {"orient": "left", "title": null, "labels": false, "domain": false, "values": [5, 10, 15, 20, 25, 30, 35, 40, 45], "tickSize": -11}},
        "color": {"field": "s", "type": "nominal"}
       }
      },
      {
       "data": {"name": "bGray"},
       "mark": {"type": "point", "filled": true, "size": 185, "color": "#7f7f7f", "clip": true},
       "encoding": {
        "x": {"field": "x", "type": "quantitative", "axis": {"orient": "bottom", "title": null, "labels": false, "domain": false, "values": [0.2, 0.4, 0.6, 0.8, 1.2, 1.4, 1.6, 1.8, 2.2, 2.4, 2.6, 2.8, 3.2, 3.4, 3.6, 3.8, 4.2, 4.4, 4.6, 4.8], "tickSize": -6}},
        "y": {"field": "y", "type": "quantitative", "axis": {"orient": "left", "title": null, "labels": false, "domain": false, "values": [2.5, 7.5, 12.5, 17.5, 22.5, 27.5, 32.5, 37.5, 42.5, 47.5], "tickSize": -6}},
        "opacity": {"field": "s", "type": "nominal", "scale": {"domain": ["SrVO₃ Experiment"], "range": [0.75, 0.75]},
         "legend": {"orient": "none", "legendX": 148, "legendY": 139.5, "title": null, "padding": 0, "symbolType": "circle", "symbolSize": 225, "symbolFillColor": "#7f7f7f", "symbolStrokeWidth": 0, "labelOffset": 22}}
       }
      },
      {
       "data": {"name": "bITO"},
       "mark": {"type": "point", "filled": false, "strokeWidth": 3.5, "color": "#000000", "opacity": 1, "clip": true},
       "encoding": {
        "x": {"field": "x", "type": "quantitative", "axis": {"orient": "top", "title": null, "labels": false, "domain": false, "values": [0.2, 0.4, 0.6, 0.8, 1.2, 1.4, 1.6, 1.8, 2.2, 2.4, 2.6, 2.8, 3.2, 3.4, 3.6, 3.8, 4.2, 4.4, 4.6, 4.8], "tickSize": -6}},
        "y": {"field": "y", "type": "quantitative", "axis": {"orient": "right", "title": null, "labels": false, "domain": false, "values": [2.5, 7.5, 12.5, 17.5, 22.5, 27.5, 32.5, 37.5, 42.5, 47.5], "tickSize": -6}},
        "size": {"field": "s", "type": "nominal", "scale": {"domain": ["Poly-ITO Experiment"], "range": [150, 150]},
         "legend": {"orient": "none", "legendX": 145.5, "legendY": 163.5, "title": null, "padding": 0, "symbolType": "circle", "symbolStrokeColor": "#000000", "symbolFillColor": "transparent", "symbolStrokeWidth": 3.5, "symbolOpacity": 1, "labelOffset": 25}}
       }
      },
      {
       "data": {"values": [{}]},
       "mark": {"type": "rect", "fill": "white", "opacity": 0.86},
       "encoding": {
        "x": {"datum": 1.25, "type": "quantitative", "axis": null}, "x2": {"datum": 4.42},
        "y": {"datum": 18.8, "type": "quantitative", "axis": null}, "y2": {"datum": 48.4}
       }
      },
      {
       "data": {"values": [{}]},
       "mark": {"type": "text", "text": "(b)", "font": "Liberation Sans", "fontSize": 19, "fontWeight": "bold", "align": "left", "baseline": "middle", "color": "black"},
       "encoding": {
        "x": {"datum": 1.39, "type": "quantitative", "axis": null},
        "y": {"datum": 45.2, "type": "quantitative", "axis": null}
       }
      }
     ]
    }
   ]
  },
  {
   "width": 455, "height": 302,
   "resolve": {"axis": {"x": "independent", "y": "independent"}},
   "layer": [
    {
     "data": {"name": "cLines"},
     "transform": [{"filter": "datum.s !== 'Poly-ITO Calculations'"}],
     "mark": {"type": "line", "strokeWidth": 4, "opacity": 0.88, "clip": true},
     "encoding": {
      "x": {"field": "x", "type": "quantitative", "scale": {"type": "log", "domain": [1, 500], "nice": false},
            "axis": {"orient": "bottom", "title": "Film Thickness (nm)", "values": [1, 10, 100], "format": "~g", "ticks": false, "domain": true, "domainCap": "square", "labelPadding": 9, "titlePadding": 8}},
      "y": {"field": "y", "type": "quantitative", "scale": {"type": "log", "domain": [0.1, 20], "nice": false},
            "axis": {"orient": "left", "title": "Figure of Merit (10⁻³Ω⁻¹)", "values": [0.1, 1, 10], "format": "~g", "ticks": false, "domain": true, "domainCap": "square", "labelPadding": 7, "titlePadding": 8}},
      "color": {"field": "s", "type": "nominal",
       "scale": {"domain": ["SrVO₃ Calculations", "SrVO₃ This work", "SrNbO₃", "SrNbO₃ Lattice+10%", "Sr₂TiNbO₆", "Sr₂TiTaO₆"], "range": ["#999999", "#ff33ff", "#333333", "#ff3333", "#ff9933", "#3333ff"]},
       "legend": {"orient": "none", "legendX": 535, "legendY": 137.5, "title": null, "padding": 0, "symbolType": "M-3.7,0L3.7,0", "symbolSize": 196, "symbolStrokeWidth": 4.5, "symbolOpacity": 1, "labelOffset": 24, "rowPadding": 3.4}}
     }
    },
    {
     "data": {"name": "cLines"},
     "transform": [{"filter": "datum.s === 'Poly-ITO Calculations'"}],
     "mark": {"type": "line", "opacity": 0.88, "color": "#339933", "clip": true},
     "encoding": {
      "x": {"field": "x", "type": "quantitative", "axis": {"orient": "top", "title": null, "labels": false, "domain": true, "domainCap": "square", "values": [10, 100], "tickSize": -11}},
      "y": {"field": "y", "type": "quantitative", "axis": {"orient": "right", "title": null, "labels": false, "domain": true, "domainCap": "square", "values": [1, 10], "tickSize": -11}},
      "strokeWidth": {"field": "s", "type": "nominal", "scale": {"domain": ["Poly-ITO Calculations"], "range": [4, 4]},
       "legend": {"orient": "none", "legendX": 535, "legendY": 90.5, "title": null, "padding": 0, "symbolType": "M-3.7,0L3.7,0", "symbolSize": 196, "symbolStrokeColor": "#339933", "symbolStrokeWidth": 4.5, "symbolOpacity": 1, "labelOffset": 24}}
     }
    },
    {
     "data": {"name": "cDash"},
     "mark": {"type": "line", "strokeWidth": 4, "opacity": 0.88, "color": "#339933", "clip": true},
     "encoding": {
      "x": {"field": "x", "type": "quantitative", "axis": {"orient": "bottom", "title": null, "labels": false, "domain": false, "values": [10, 100], "tickSize": -11}},
      "y": {"field": "y", "type": "quantitative", "axis": {"orient": "left", "title": null, "labels": false, "domain": false, "values": [1, 10], "tickSize": -11}},
      "strokeDash": {"field": "s", "type": "nominal", "scale": {"domain": ["epi-ITO Calculations"], "range": [[22, 8]]},
       "legend": {"orient": "none", "legendX": 535, "legendY": 43.5, "title": null, "padding": 0, "symbolType": "M-3.7,0L3.7,0", "symbolSize": 196, "symbolStrokeColor": "#339933", "symbolStrokeWidth": 4.5, "symbolOpacity": 1, "labelOffset": 24}}
     }
    },
    {
     "data": {"name": "cCirc"},
     "mark": {"type": "point", "filled": false, "strokeWidth": 3, "color": "#008000", "opacity": 1, "clip": true},
     "encoding": {
      "x": {"field": "x", "type": "quantitative", "axis": {"orient": "bottom", "title": null, "labels": false, "domain": false, "values": [2, 3, 4, 5, 6, 7, 8, 9, 20, 30, 40, 50, 60, 70, 80, 90, 200, 300, 400], "tickSize": -6}},
      "y": {"field": "y", "type": "quantitative", "axis": {"orient": "left", "title": null, "labels": false, "domain": false, "values": [0.2, 0.3, 0.4, 0.5, 0.6, 0.7, 0.8, 0.9, 2, 3, 4, 5, 6, 7, 8, 9, 20], "tickSize": -6}},
      "size": {"field": "s", "type": "nominal", "scale": {"domain": ["Poly-ITO Experiments"], "range": [150, 150]},
       "legend": {"orient": "none", "legendX": 534, "legendY": 66.5, "title": null, "padding": 0, "symbolType": "circle", "symbolStrokeColor": "#008000", "symbolFillColor": "transparent", "symbolStrokeWidth": 3.5, "symbolOpacity": 1, "labelOffset": 25}}
     }
    },
    {
     "data": {"name": "cSrV"},
     "mark": {"type": "point", "filled": false, "size": 150, "strokeWidth": 3, "color": "#a0a0a0", "clip": true},
     "encoding": {
      "x": {"field": "x", "type": "quantitative", "axis": {"orient": "top", "title": null, "labels": false, "domain": false, "values": [2, 3, 4, 5, 6, 7, 8, 9, 20, 30, 40, 50, 60, 70, 80, 90, 200, 300, 400], "tickSize": -6}},
      "y": {"field": "y", "type": "quantitative", "axis": {"orient": "right", "title": null, "labels": false, "domain": false, "values": [0.2, 0.3, 0.4, 0.5, 0.6, 0.7, 0.8, 0.9, 2, 3, 4, 5, 6, 7, 8, 9, 20], "tickSize": -6}},
      "opacity": {"field": "s", "type": "nominal", "scale": {"domain": ["SrVO₃ Experiments"], "range": [1, 1]},
       "legend": {"orient": "none", "legendX": 534, "legendY": 113.5, "title": null, "padding": 0, "symbolType": "circle", "symbolSize": 165, "symbolStrokeColor": "#a0a0a0", "symbolFillColor": "transparent", "symbolStrokeWidth": 3.5, "labelOffset": 25}}
     }
    },
    {
     "data": {"name": "cTri"},
     "mark": {"type": "point", "filled": false, "size": 200, "strokeWidth": 3, "color": "#008000", "opacity": 1, "clip": true},
     "encoding": {
      "x": {"field": "x", "type": "quantitative", "axis": null},
      "y": {"field": "y", "type": "quantitative", "axis": null},
      "shape": {"field": "s", "type": "nominal", "scale": {"domain": ["epi-ITO Experiments"], "range": ["triangle-up"]},
       "legend": {"orient": "none", "legendX": 534, "legendY": 19, "title": null, "padding": 0, "symbolSize": 250, "symbolStrokeColor": "#008000", "symbolFillColor": "transparent", "symbolStrokeWidth": 3.5, "symbolOpacity": 1, "labelOffset": 23}}
     }
    },
    {
     "data": {"values": [{}]},
     "mark": {"type": "text", "text": "(c)", "font": "Liberation Sans", "fontSize": 19, "fontWeight": "bold", "align": "left", "baseline": "middle", "color": "black"},
     "encoding": {
      "x": {"datum": 1.6, "type": "quantitative", "axis": null},
      "y": {"datum": 0.192, "type": "quantitative", "axis": null}
     }
    }
   ]
  }
 ],
 "config": {
  "font": "Liberation Sans",
  "view": {"stroke": null},
  "axis": {"grid": false, "labelFont": "Liberation Sans", "labelFontSize": 19, "labelFontWeight": "bold", "labelColor": "black", "titleFont": "Liberation Sans", "titleFontSize": 18.5, "titleFontWeight": "bold", "titleColor": "black", "tickColor": "black", "tickWidth": 2.5, "domainColor": "black", "domainWidth": 3, "labelOverlap": false, "labelFlush": false, "zindex": 1},
  "legend": {"labelFont": "Liberation Sans", "labelFontSize": 19, "labelFontWeight": "bold", "labelColor": "black", "titleFont": "Liberation Sans", "titleFontSize": 19, "titleFontWeight": "bold", "titleColor": "black", "labelLimit": 400}
 }
}
